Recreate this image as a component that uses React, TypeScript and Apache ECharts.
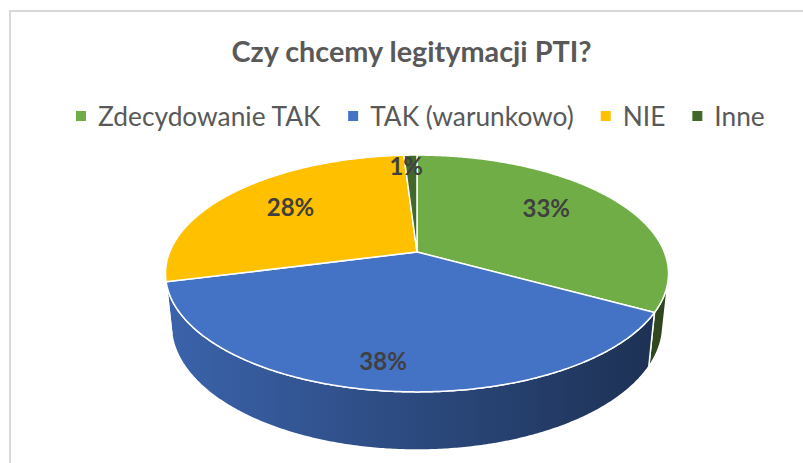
import React, { useEffect, useRef } from "react";
import * as echarts from "echarts";

// ---- data ----
const TITLE = "Czy chcemy legitymacji PTI?";
const CATEGORIES = ["Zdecydowanie TAK", "TAK (warunkowo)", "NIE", "Inne"];
const VALUES = [33, 38, 28, 1];
const COLORS = ["#70AD47", "#4472C4", "#FFC000", "#43682B"];

// ---- view / style (not data) ----
const VIEW = { cx: 417, cy: 252, f: 1208.7, D: 4.887, sinT: 0.463, H: 0.2375 };
const LABEL_R = [0.7, 0.82, 0.7, 0.88];
const LABEL_SHIFT_DEG = [-6, 1, 2, -1.5];
const FONT = "Lato";

const cosT = Math.sqrt(1 - VIEW.sinT * VIEW.sinT);

function project(X: number, Z: number, Y: number): number[] {
  const depth = VIEW.D - Y * VIEW.sinT - Z * cosT;
  const up = Y * cosT - Z * VIEW.sinT;
  return [VIEW.cx + (VIEW.f * X) / depth, VIEW.cy - (VIEW.f * up) / depth];
}
function rim(theta: number, Y: number, r = 1): number[] {
  return project(r * Math.sin(theta), -r * Math.cos(theta), Y);
}
function arc(a0: number, a1: number, Y: number): number[][] {
  const n = Math.max(2, Math.ceil(Math.abs(a1 - a0) / (Math.PI / 360)));
  const pts: number[][] = [];
  for (let k = 0; k <= n; k++) pts.push(rim(a0 + ((a1 - a0) * k) / n, Y));
  return pts;
}
function shade(hex: string, k: number): string {
  const n = parseInt(hex.slice(1), 16);
  const r = Math.round(((n >> 16) & 255) * k);
  const g = Math.round(((n >> 8) & 255) * k);
  const b = Math.round((n & 255) * k);
  return `rgb(${r},${g},${b})`;
}
const wallLight = (X: number) => 0.64 - 0.24 * X;

function renderItem(params: any) {
  const i = params.seriesIndex;
  const total = VALUES.reduce((a, b) => a + b, 0);
  const before = VALUES.slice(0, i).reduce((a, b) => a + b, 0);
  const a0 = (before / total) * Math.PI * 2;
  const a1 = ((before + VALUES[i]) / total) * Math.PI * 2;
  const children: any[] = [];

  // side wall (only the part facing the viewer)
  const zMin = 1 / (VIEW.D * cosT);
  const lo = Math.acos(-zMin);
  const hi = Math.PI * 2 - lo;
  const w0 = Math.max(a0, lo);
  const w1 = Math.min(a1, hi);
  if (w1 > w0) {
    const pts = arc(w0, w1, 0).concat(arc(w1, w0, -VIEW.H));
    children.push({
      type: "polygon",
      z2: 1,
      shape: { points: pts },
      style: {
        fill: new echarts.graphic.LinearGradient(0, 0, 1, 0, [
          { offset: 0, color: shade(COLORS[i], wallLight(Math.sin(w1))) },
          { offset: 1, color: shade(COLORS[i], wallLight(Math.sin(w0))) },
        ]),
        stroke: "#ffffff",
        lineWidth: 1.5,
        lineJoin: "round",
      },
    });
  }

  // top face
  children.push({
    type: "polygon",
    z2: 10,
    shape: { points: [project(0, 0, 0)].concat(arc(a0, a1, 0)) },
    style: { fill: COLORS[i], stroke: "#ffffff", lineWidth: 1.5, lineJoin: "round" },
  });

  // data label
  const mid = (a0 + a1) / 2 + (LABEL_SHIFT_DEG[i] * Math.PI) / 180;
  const p = rim(mid, 0, LABEL_R[i]);
  children.push({
    type: "text",
    z2: 20,
    x: p[0],
    y: p[1],
    style: {
      text: Math.round((VALUES[i] / total) * 100) + "%",
      fill: "#404040",
      fontFamily: FONT,
      fontWeight: "bold",
      fontSize: 24,
      align: "center",
      verticalAlign: "middle",
      textAlign: "center",
      textVerticalAlign: "middle",
    },
  });

  return { type: "group", children };
}

export default function App() {
  const ref = useRef<HTMLDivElement>(null);
  useEffect(() => {
    document.body.style.margin = "0";
    document.documentElement.style.overflow = "hidden";
    const chart = echarts.init(ref.current!, undefined, { renderer: "svg" });
    chart.setOption({
      animation: false,
      backgroundColor: "#ffffff",
      graphic: [
        {
          type: "rect",
          shape: { x: 10, y: 11, width: 900, height: 600 },
          style: { fill: "none", stroke: "#D9D9D9", lineWidth: 2 },
          silent: true,
        },
        {
          type: "text",
          x: 411.5,
          y: 51,
          style: {
            text: TITLE,
            fill: "#595959",
            fontFamily: FONT,
            fontWeight: "bold",
            fontSize: 28.8,
            align: "center",
            verticalAlign: "middle",
            textAlign: "center",
            textVerticalAlign: "middle",
          },
        },
      ],
      legend: {
        data: CATEGORIES,
        left: 76,
        top: 103,
        padding: 0,
        icon: "rect",
        itemWidth: 10,
        itemHeight: 10,
        itemGap: 27,
        selectedMode: false,
        textStyle: { fontFamily: FONT, fontSize: 26.3, color: "#595959", padding: [0, 0, 0, 7] },
      },
      series: CATEGORIES.map((name, i) => ({
        type: "custom",
        name,
        coordinateSystem: "none",
        data: [VALUES[i]],
        itemStyle: { color: COLORS[i] },
        renderItem,
        silent: true,
      })),
    });
    return () => chart.dispose();
  }, []);
  return (
    <div
      ref={ref}
      style={{ position: "absolute", left: 0, top: 0, width: 803, height: 463 }}
    />
  );
}
